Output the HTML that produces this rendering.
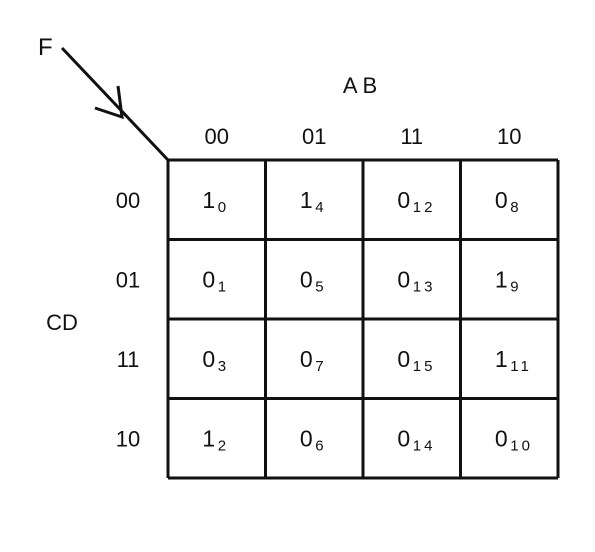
<!DOCTYPE html>
<html><head><meta charset="utf-8"><style>
body{margin:0;background:#fff;width:595px;height:547px;overflow:hidden}
text{font-family:"Liberation Sans",sans-serif;fill:#111}
</style></head><body>
<svg width="595" height="547">
<text x="38" y="55" font-size="24">F</text>
<g stroke="#111" stroke-width="3" fill="none">
<line x1="62" y1="48" x2="168" y2="160"/>
<polyline points="95,108 122,117 118,86"/>
</g>
<text x="360" y="93" font-size="22" text-anchor="middle">A B</text>
<text x="62" y="330" font-size="22" text-anchor="middle">CD</text>
<g id="g"></g>
</svg>
<script>
const colLabels=["00","01","11","10"];
const rowLabels=["00","01","11","10"];
const values=[[1,1,0,0],[0,0,0,1],[0,0,0,1],[1,0,0,0]];
const indices=[[0,4,12,8],[1,5,13,9],[3,7,15,11],[2,6,14,10]];
const ns="http://www.w3.org/2000/svg";
const g=document.getElementById('g');
const x0=168,y0=160,cw=97.5,rh=79.5;
function mk(t,a){const e=document.createElementNS(ns,t);for(const k in a)e.setAttribute(k,a[k]);g.appendChild(e);return e;}
colLabels.forEach((c,i)=>{const e=mk('text',{x:x0+cw*(i+0.5),y:144,'font-size':22,'text-anchor':'middle'});e.textContent=c;

});
rowLabels.forEach((r,j)=>{const e=mk('text',{x:128,y:y0+rh*(j+0.5)+8,'font-size':22,'text-anchor':'middle'});e.textContent=r;

});
for(let j=0;j<4;j++)for(let i=0;i<4;i++){
const cx=x0+cw*(i+0.5),cy=y0+rh*(j+0.5);
const e=mk('text',{x:cx-8,y:cy+8,'font-size':23,'text-anchor':'middle'});


e.textContent=values[j][i];
const s=mk('text',{x:cx+1,y:cy+12,'font-size':15,'text-anchor':'start','letter-spacing':indices[j][i]>9?'3':'0'});


s.textContent=indices[j][i];
}
for(let i=0;i<=4;i++){const l=mk('line',{x1:x0+cw*i,y1:y0,x2:x0+cw*i,y2:y0+rh*4,stroke:'#111','stroke-width':3});

}
for(let j=0;j<=4;j++){const l=mk('line',{x1:x0,y1:y0+rh*j,x2:x0+cw*4,y2:y0+rh*j,stroke:'#111','stroke-width':3});

}
</script>
</body></html>
